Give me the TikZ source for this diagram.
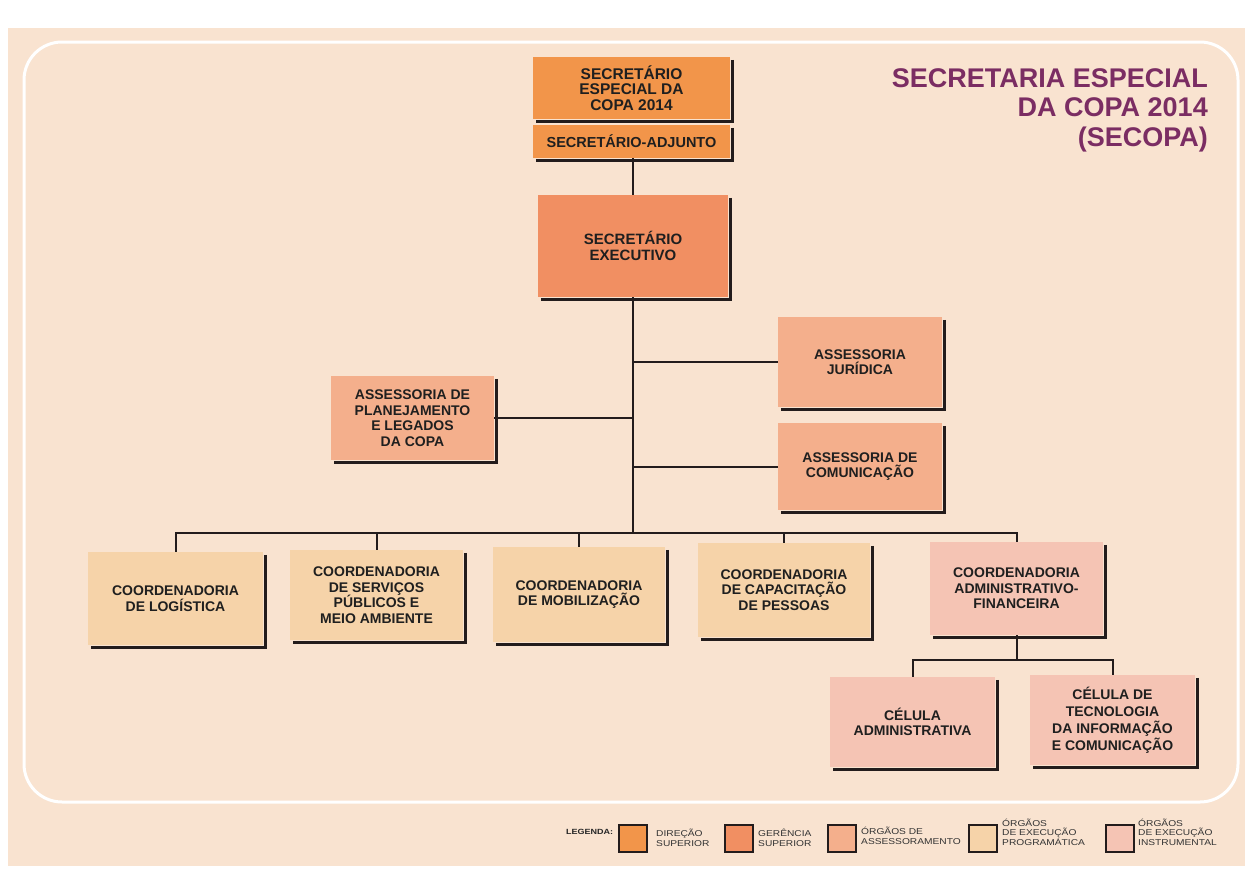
\documentclass[tikz,border=0pt]{standalone}
\usepackage{fontspec}
\setmainfont{Liberation Sans}
\newfontfamily\legfont{Liberation Sans}[FakeStretch=1.2]
\usetikzlibrary{calc}
\definecolor{bgpeach}{HTML}{F9E3D0}
\definecolor{cdir}{HTML}{F2954A}
\definecolor{cger}{HTML}{F18F62}
\definecolor{cass}{HTML}{F4AF8C}
\definecolor{cprog}{HTML}{F6D3A9}
\definecolor{cinst}{HTML}{F5C4B4}
\definecolor{ctitle}{HTML}{7B2D63}
\definecolor{cline}{HTML}{231C1C}
\tikzset{
  orgbox/.style={rectangle, inner sep=2pt, align=center, text=black!88,
    font=\fontsize{14}{15.5}\selectfont\bfseries},
  shadeline/.style={draw=cline, line width=2.6pt},
  conn/.style={draw=cline, line width=2pt},
  legsq/.style={draw=cline, line width=2pt, minimum width=28pt, minimum height=27pt, inner sep=0pt},
  legtxt/.style={anchor=west, align=left, inner sep=0pt, text=black!80,
    font=\legfont\fontsize{8.5}{9.5}\selectfont}
}
\newcommand\orgnode[8][]{%
  \node[orgbox, fill=#7, minimum width={(#5-#3)*1pt}, minimum height={(#6-#4)*1pt}, #1]
    (#2) at ({(#3+#5)/2},{-(#4+#6)/2}) {#8};
  \draw[shadeline] ($(#2.north east)+(2.5,-3)$) |- ($(#2.south west)+(3,-2.5)$);
}
\begin{document}
\begin{tikzpicture}[x=1pt,y=1pt]
\useasboundingbox (0,0) rectangle (1250,-870);
\fill[white] (0,0) rectangle (1250,-870);
\fill[bgpeach] (8,-28) rectangle (1245,-866);
\draw[white, line width=3pt, rounded corners=38pt] (24,-42) rectangle (1238,-802);

% title
\node[anchor=north east, align=right, inner sep=0pt, text=ctitle,
  font=\fontsize{27}{29.5}\selectfont\bfseries] (title) at (1208,-68)
  {SECRETARIA ESPECIAL\\DA COPA 2014\\(SECOPA)};

% boxes
\orgnode[font=\fontsize{15.5}{15.5}\selectfont\bfseries]{sec}{533}{57}{730}{119}{cdir}{SECRETÁRIO\\ESPECIAL DA\\COPA 2014}
\orgnode[font=\fontsize{14.5}{15}\selectfont\bfseries]{adj}{533}{125}{730}{158}{cdir}{SECRETÁRIO-ADJUNTO}
\orgnode[font=\fontsize{15}{15.5}\selectfont\bfseries]{exec}{538}{195}{728}{297}{cger}{SECRETÁRIO\\EXECUTIVO}
\orgnode{jur}{778}{317}{942}{407}{cass}{ASSESSORIA\\JURÍDICA}
\orgnode{com}{778}{423}{942}{510}{cass}{ASSESSORIA DE\\COMUNICAÇÃO}
\orgnode{plan}{331}{376}{494}{460}{cass}{ASSESSORIA DE\\PLANEJAMENTO\\E LEGADOS\\DA COPA}
\orgnode{log}{88}{552}{263}{645}{cprog}{COORDENADORIA\\DE LOGÍSTICA}
\orgnode{serv}{290}{550}{463}{640}{cprog}{COORDENADORIA\\DE SERVIÇOS\\PÚBLICOS E\\MEIO AMBIENTE}
\orgnode{mob}{493}{547}{665}{642}{cprog}{COORDENADORIA\\DE MOBILIZAÇÃO}
\orgnode{cap}{698}{543}{870}{637}{cprog}{COORDENADORIA\\DE CAPACITAÇÃO\\DE PESSOAS}
\orgnode{adm}{930}{542}{1103}{635}{cinst}{COORDENADORIA\\ADMINISTRATIVO-\\FINANCEIRA}
\orgnode{cela}{830}{677}{995}{767}{cinst}{CÉLULA\\ADMINISTRATIVA}
\orgnode[font=\fontsize{14}{17}\selectfont\bfseries]{celt}{1030}{675}{1195}{765}{cinst}{CÉLULA DE\\TECNOLOGIA\\DA INFORMAÇÃO\\E COMUNICAÇÃO}

% connectors
\coordinate (bus) at (0,-533);
\coordinate (sub) at (0,-660);
\draw[conn] (exec.north |- adj.south) -- (exec.north);
\draw[conn] (exec.south) -- (exec.south |- bus);
\draw[conn] (jur.west) -- (jur.west -| exec.south);
\draw[conn] (com.west) -- (com.west -| exec.south);
\draw[conn] (plan.east) -- (plan.east -| exec.south);
\draw[conn] (log.north) -- (log.north |- bus) -- (adm.north |- bus) -- (adm.north);
\draw[conn] (serv.north) -- (serv.north |- bus);
\draw[conn] (mob.north) -- (mob.north |- bus);
\draw[conn] (cap.north) -- (cap.north |- bus);
\draw[conn] (adm.south) -- (adm.south |- sub);
\draw[conn] (cela.north) -- (cela.north |- sub) -- (celt.north |- sub) -- (celt.north);

% legend
\node[anchor=west, inner sep=0pt, text=black!85, font=\legfont\fontsize{7.5}{9}\selectfont\bfseries] (legt) at (566,-832) {LEGENDA:};
\node[legsq, fill=cdir] (l1) at (633,-838) {};
\node[legtxt] (t1) at (656,-838) {DIREÇÃO\\SUPERIOR};
\node[legsq, fill=cger] (l2) at (739,-838) {};
\node[legtxt] (t2) at (758,-838) {GERÊNCIA\\SUPERIOR};
\node[legsq, fill=cass] (l3) at (842,-838) {};
\node[legtxt] (t3) at (861,-836) {ÓRGÃOS DE\\ASSESSORAMENTO};
\node[legsq, fill=cprog] (l4) at (983,-838) {};
\node[legtxt] (t4) at (1002,-832) {ÓRGÃOS\\DE EXECUÇÃO\\PROGRAMÁTICA};
\node[legsq, fill=cinst] (l5) at (1120,-838) {};
\node[legtxt] (t5) at (1138,-832) {ÓRGÃOS\\DE EXECUÇÃO\\INSTRUMENTAL};
\end{tikzpicture}
\end{document}
